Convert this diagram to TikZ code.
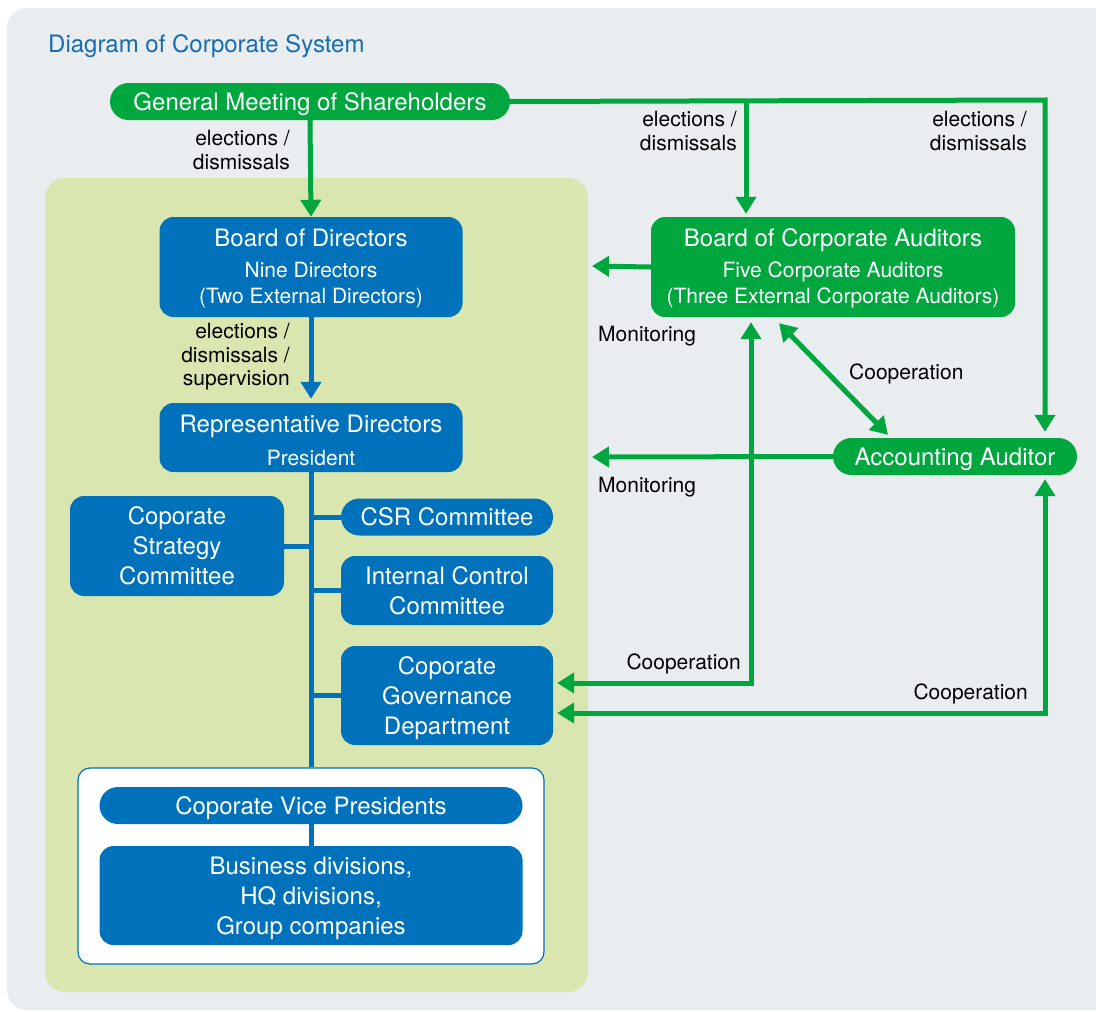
\documentclass[tikz,border=0pt]{standalone}
\usepackage{fontspec}
\setmainfont{TeX Gyre Heros}
\usetikzlibrary{arrows.meta,positioning,calc}
\definecolor{cgreen}{RGB}{0,166,62}
\definecolor{cblue}{RGB}{0,114,188}
\definecolor{cpanel}{RGB}{217,230,176}
\definecolor{cback}{RGB}{233,237,240}
\definecolor{ctitle}{RGB}{22,108,178}
\newcommand{\boxfont}{\fontsize{24}{30}\selectfont}
\newcommand{\subfont}{\fontsize{21}{26}\selectfont}
\newcommand{\labfont}{\fontsize{21}{23.5}\selectfont}

\begin{document}
\begin{tikzpicture}[x=1pt,y=-1pt]
\tikzstyle{every node}+=[inner sep=0pt]
\tikzstyle{gbox}=[fill=cgreen, text=white, align=center, rounded corners=14pt]
\tikzstyle{bbox}=[fill=cblue, text=white, align=center, rounded corners=14pt]
\tikzstyle{pill}=[rounded corners=18.5pt, minimum height=37pt, text depth=0pt, font=\boxfont]
\tikzstyle{lab}=[text=black, font=\labfont]
\tikzstyle{garrow}=[draw=cgreen, line width=5pt, -{Triangle[width=20pt,length=17pt]}]
\tikzstyle{gboth}=[draw=cgreen, line width=5pt, {Triangle[width=20pt,length=17pt]}-{Triangle[width=20pt,length=17pt]}]
\tikzstyle{bline}=[draw=cblue, line width=5pt]
\clip (0,0) rectangle (1096,1012);
\fill[cback, rounded corners=20pt] (7,8) rectangle (1120,1010);
\fill[cpanel, rounded corners=20pt] (45,178) rectangle (588,992);
\node[anchor=west, text=ctitle, font=\fontsize{24}{28}\selectfont] (title) at (48,46.5) {Diagram of Corporate System};
% shareholders and auditors
\node[gbox, pill, minimum width=400pt] (gms) at (310,101.5) {General Meeting of Shareholders};
\node[gbox, minimum width=364pt, minimum height=100pt, font=\subfont] (bca) at (833,267)
  {{\boxfont\rule{0pt}{21pt}Board of Corporate Auditors}\\[5pt]Five Corporate Auditors\\(Three External Corporate Auditors)};
\node[gbox, pill, minimum width=244pt] (aa) at (955,456.5) {Accounting Auditor};
% executive side
\node[bbox, minimum width=303pt, minimum height=100pt, font=\subfont] (bod) at (311,267)
  {{\boxfont\rule{0pt}{21pt}Board of Directors}\\[5pt]Nine Directors\\(Two External Directors)};
\node[bbox, minimum width=303pt, minimum height=69pt, font=\subfont] (rep) at (311,437.5)
  {{\boxfont\rule{0pt}{24pt}Representative Directors}\\[7pt]President};
\node[bbox, minimum width=214pt, minimum height=100pt, font=\boxfont] (strat) at (177,546) {Coporate\\Strategy\\Committee};
\node[bbox, pill, minimum width=212pt] (csr) at (447,517) {CSR Committee};
\node[bbox, minimum width=212pt, minimum height=69pt, font=\boxfont] (icc) at (447,590.5) {Internal Control\\Committee};
\node[bbox, minimum width=212pt, minimum height=99pt, font=\boxfont] (cgd) at (447,695.5) {\rule{0pt}{23.5pt}Coporate\\Governance\\Department};
\node[draw=cblue, line width=1.2pt, fill=white, rounded corners=12pt, minimum width=466pt, minimum height=196pt] (wbox) at (311,866) {};
\node[bbox, pill, minimum width=423pt] (cvp) at (311,805.5) {Coporate Vice Presidents};
\node[bbox, minimum width=423pt, minimum height=99pt, font=\boxfont] (bus) at (311,895.5) {\rule{0pt}{23.5pt}Business divisions,\\HQ divisions,\\Group companies};
% blue tree
\draw[bline] (rep.south) -- (wbox.north);
\draw[bline] (strat.east) -- (strat.east -| rep.south);
\draw[bline] (csr.west) -- (csr.west -| rep.south);
\draw[bline] (icc.west) -- (icc.west -| rep.south);
\draw[bline] (cgd.west) -- (cgd.west -| rep.south);
\draw[bline] (cvp.south) -- (bus.north);
\draw[bline, -{Triangle[width=20pt,length=17pt]}, shorten >=4pt] (bod.south) -- (rep.north);
% green connectors
\coordinate (top1) at (746,100);
\coordinate (top2) at (1045,100);
\coordinate (mon1) at (592,266);
\coordinate (mon2) at (592,457);
\coordinate (co1) at (751,683);
\coordinate (co2) at (1045,713);
\draw[garrow] (gms.south) -- (bod.north);
\draw[garrow, shorten >=6pt] (gms.east) -- (top2) -- (top2 |- aa.north);
\draw[garrow, shorten >=3pt] (top1) -- (top1 |- bca.north);
\draw[garrow] (bca.west) -- (mon1);
\draw[garrow] (aa.west) -- (mon2);
\draw[gboth, shorten <=4pt, shorten >=5pt] (cgd.east |- co1) -- (co1) -- (co1 |- bca.south);
\draw[gboth, shorten <=4pt, shorten >=4pt] (cgd.east |- co2) -- (co2) -- (co2 |- aa.south);
\draw[gboth] ($(bca.south)+(-54,6)$) -- ($(aa.north)+(-67,-3)$);
% labels
\node[lab, anchor=east, align=right] (l1) at (290,150) {elections /\\dismissals};
\node[lab, anchor=east, align=right] (l2) at (737,131) {elections /\\dismissals};
\node[lab, anchor=east, align=right] (l3) at (1027,131) {elections /\\dismissals};
\node[lab, anchor=east, align=right] (l4) at (290,357) {elections /\\dismissals /\\supervision};
\node[lab, anchor=west] (mo1) at (598,336) {Monitoring};
\node[lab, anchor=west] (mo2) at (598,487) {Monitoring};
\node[lab, anchor=west] (cp1) at (849,374) {Cooperation};
\node[lab, anchor=east] (cp2) at (741,664) {Cooperation};
\node[lab, anchor=east] (cp3) at (1028,694) {Cooperation};
\end{tikzpicture}
\end{document}
